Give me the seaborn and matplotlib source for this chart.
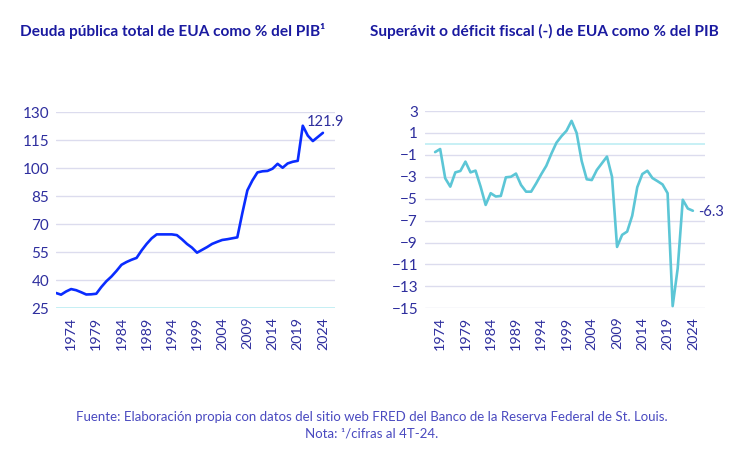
import numpy as np
import pandas as pd
import matplotlib
matplotlib.use("Agg")
import matplotlib.pyplot as plt
import seaborn as sns

# ---------------- data ----------------
debt_years = list(range(1971, 2025))
debt_values = [33.2, 32.3, 34.0, 35.3, 34.7, 33.6, 32.4, 32.5, 32.8, 36.4,
               39.5, 42.0, 45.0, 48.3, 49.8, 51.0, 52.0, 56.0, 59.5, 62.5,
               64.6, 64.6, 64.6, 64.6, 64.2, 62.0, 59.5, 57.5, 54.8, 56.3,
               57.8, 59.5, 60.6, 61.6, 62.0, 62.5, 63.0, 76.0, 88.2, 93.5,
               97.8, 98.4, 98.6, 99.8, 102.4, 100.3, 102.6, 103.5, 104.0, 122.8,
               117.5, 114.6, 116.8, 119.0]

bal_years = list(range(1973, 2025))
bal_values = [-0.75, -0.47, -3.14, -3.9, -2.6, -2.47, -1.62, -2.6, -2.44, -3.9,
              -5.57, -4.5, -4.8, -4.75, -3.05, -3.0, -2.71, -3.75, -4.36, -4.36,
              -3.6, -2.77, -2.0, -0.9, 0.1, 0.7, 1.2, 2.1, 1.0, -1.56,
              -3.23, -3.3, -2.38, -1.77, -1.16, -3.0, -9.4, -8.3, -8.0, -6.55,
              -3.95, -2.75, -2.45, -3.12, -3.4, -3.7, -4.5, -14.8, -11.35, -5.1,
              -5.9, -6.1]

debt_label = "121.9"
bal_label = "-6.3"
xtick_years = list(range(1974, 2025, 5))
debt_yticks = [25, 40, 55, 70, 85, 100, 115, 130]
bal_yticks = [3, 1, -1, -3, -5, -7, -9, -11, -13, -15]

title_left = "Deuda pública total de EUA como % del PIB¹"
title_right = "Superávit o déficit fiscal (-) de EUA como % del PIB"
footer1 = "Fuente: Elaboración propia con datos del sitio web FRED del Banco de la Reserva Federal de St. Louis."
footer2 = "Nota: ¹/cifras al 4T-24."

# ---------------- style ----------------
sns.set_theme(style="white")
plt.rcParams["font.family"] = ["Lato", "DejaVu Sans"]

TEXT = "#2e2e9e"
TITLE = "#1a1aa0"
GRID = "#dcdcee"
BASE = "#bdeef3"
C_DEBT = "#0a2cff"
C_BAL = "#5cc6d6"

fig = plt.figure(figsize=(7.4, 4.58), dpi=100)
axL = fig.add_axes([56/740, 1-308.3/458, (335-56)/740, (308.3-112.3)/458])
axR = fig.add_axes([425/740, 1-308.3/458, (705-425)/740, (308.3-111)/458])

df_debt = pd.DataFrame({"year": debt_years, "value": debt_values})
df_bal = pd.DataFrame({"year": bal_years, "value": bal_values})

sns.lineplot(data=df_debt, x="year", y="value", ax=axL, color=C_DEBT, linewidth=1.9, zorder=3)
sns.lineplot(data=df_bal, x="year", y="value", ax=axR, color=C_BAL, linewidth=1.9, zorder=3)

for ax, yt, lim in [(axL, debt_yticks, (25, 130)), (axR, bal_yticks, (-15, 3))]:
    ax.set_xlim(1971, 2026.4)
    ax.set_ylim(*lim)
    ax.set_yticks(yt)
    ax.set_xticks(xtick_years)
    ax.set_xticklabels([str(y) for y in xtick_years], rotation=90)
    ax.set_xlabel("")
    ax.set_ylabel("")
    for s in ax.spines.values():
        s.set_visible(False)
    ax.grid(axis="y", color=GRID, linewidth=1.0)
    ax.grid(axis="x", visible=False)
    ax.set_axisbelow(True)
    ax.tick_params(axis="both", length=0, colors=TEXT, labelsize=11)
    ax.tick_params(axis="x", pad=6, labelsize=10.3)
    ax.tick_params(axis="y", pad=5)
    ax.patch.set_alpha(0)

axL.axhline(25, color=BASE, linewidth=1.2, zorder=2)
axR.axhline(0, color=BASE, linewidth=1.2, zorder=2)

axL.text(2024.6, 124.8, debt_label, ha="center", va="center", color=TEXT, fontsize=10.5, clip_on=False)
axR.text(2025.0, -6.2, bal_label, ha="left", va="center", color=TEXT, fontsize=10.5, clip_on=False)

fig.text(20/740, 1-31/458, title_left, ha="left", va="center", color=TITLE, fontsize=11.1, fontweight="bold")
fig.text(370/740, 1-31/458, title_right, ha="left", va="center", color=TITLE, fontsize=11.1, fontweight="bold")

fig.text(372/740, 1-417/458, footer1, ha="center", va="center", color="#4a4ac0", fontsize=9.5)
fig.text(372/740, 1-433/458, footer2, ha="center", va="center", color="#4a4ac0", fontsize=9.5)

fig.savefig("out.png", dpi=100, facecolor="white")
